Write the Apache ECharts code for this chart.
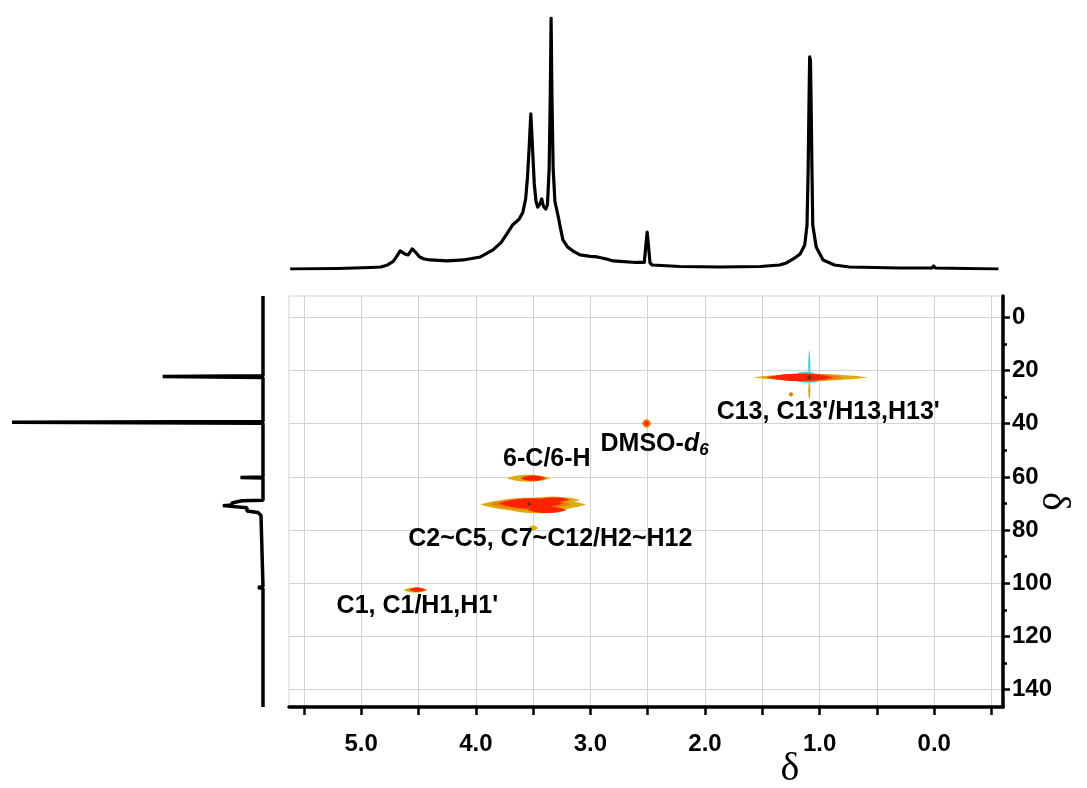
<!DOCTYPE html>
<html>
<head>
<meta charset="UTF-8">
<title>HSQC</title>
<script src="https://cdn.jsdelivr.net/npm/echarts@6/dist/echarts.min.js"></script>
<style>
html, body { margin: 0; padding: 0; background: #fff; }
#hsqc { width: 1087px; height: 788px; }
</style>
</head>
<body>
<div id="hsqc"></div>
<script>
// axis ranges (ppm)
var hRange = [-0.6, 5.63];
var cRange = [-8, 146.5];
var hTicks = [-0.5, 0, 0.5, 1, 1.5, 2, 2.5, 3, 3.5, 4, 4.5, 5, 5.5];
var hLabels = [0, 1, 2, 3, 4, 5];
var cTicks = [0, 20, 40, 60, 80, 100, 120, 140];
var cMinorTicks = [10, 30, 50, 70, 90, 110, 130];

// 1H projection (top): [shift, intensity]
var protonSpectrum = [
    [5.62, 0], [5.20, 0.2], [4.92, 0.6], [4.83, 0.8], [4.77, 1.6], [4.72, 3.0], [4.69, 5.0],
    [4.66, 7.2], [4.62, 6.0], [4.59, 5.6], [4.555, 8.0], [4.52, 6.4], [4.49, 4.8], [4.45, 4.0],
    [4.40, 3.6], [4.25, 3.2], [4.11, 3.6], [3.96, 4.8], [3.85, 7.6], [3.78, 10.5], [3.73, 13.9],
    [3.68, 17.5], [3.65, 18.7], [3.62, 20.0], [3.59, 22.5], [3.565, 28], [3.55, 36], [3.535, 48],
    [3.52, 61.8], [3.505, 48], [3.49, 34], [3.475, 27], [3.46, 24.7], [3.44, 26], [3.425, 27.9],
    [3.41, 25], [3.39, 23.9], [3.375, 25.5], [3.36, 40], [3.35, 70], [3.343, 100], [3.336, 70],
    [3.325, 40], [3.31, 27], [3.28, 20.7], [3.26, 16], [3.24, 11.6], [3.20, 8.8], [3.14, 6.8],
    [3.09, 5.6], [3.0, 5.0], [2.94, 4.8], [2.86, 4.0], [2.80, 3.2], [2.74, 3.0], [2.60, 2.6],
    [2.53, 2.6], [2.515, 10], [2.505, 14.7], [2.495, 10], [2.48, 2.4], [2.46, 1.6], [2.22, 1.0],
    [1.87, 0.8], [1.52, 1.0], [1.35, 1.6], [1.29, 2.4], [1.23, 4.0], [1.17, 6.0], [1.13, 9.6],
    [1.11, 17.5], [1.10, 40], [1.093, 65], [1.087, 84.5], [1.08, 83], [1.074, 65], [1.067, 40],
    [1.06, 17.5], [1.03, 8.8], [0.97, 3.6], [0.87, 1.6], [0.74, 0.8], [0.30, 0.4], [0.02, 0.4],
    [0.005, 1.2], [-0.01, 0.4], [-0.56, 0]
];

// 13C projection (left): [shift, intensity]
var carbonSpectrum = [
    [-8, 0], [22.0, 0], [22.3, 40], [22.6, 0], [39.2, 0], [39.5, 100], [39.8, 0],
    [60.0, 0], [60.2, 9], [60.4, 0], [68.8, 0], [69.0, 8.4], [69.6, 8.4], [69.8, 12.4],
    [70.6, 12.4], [70.8, 16], [71.4, 16], [71.6, 6.4], [72.8, 6.4], [73.4, 2], [74.5, 0.8],
    [101.2, 0], [101.6, 2], [102, 0], [146.5, 0]
];

// cross peaks per contour level: [1H shift, 13C shift, 1H half-span, 13C half-span]
var levelOuter = [
    [1.08, 22.6, 0.50, 1.3], [1.09, 27.5, 0.010, 3.5],
    [3.54, 60.5, 0.19, 1.3],
    [3.50, 70.4, 0.46, 2.6], [3.33, 68.7, 0.24, 1.3], [3.45, 72.5, 0.25, 1.2], [3.50, 79.2, 0.04, 0.9],
    [4.525, 102.5, 0.105, 1.0]
];
var levelNegative = [
    [1.09, 18.0, 0.010, 5.5], [1.10, 24.0, 0.10, 0.6], [1.12, 21.0, 0.08, 0.5]
];
var levelMid = [
    [1.12, 22.6, 0.33, 1.5], [1.25, 29.0, 0.02, 0.8],
    [2.51, 39.9, 0.04, 1.6],
    [3.52, 70.2, 0.35, 2.2]
];
var levelInner = [
    [1.17, 22.6, 0.29, 1.4],
    [2.51, 39.9, 0.02, 0.9],
    [3.50, 60.5, 0.11, 1.0],
    [3.52, 70.0, 0.28, 1.9], [3.38, 72.4, 0.17, 1.2], [3.32, 68.6, 0.14, 0.9],
    [4.51, 102.4, 0.07, 0.8]
];
var levelCore = [
    [1.09, 22.6, 0.02, 0.8], [3.535, 70.2, 0.015, 0.7]
];

// assignments: [1H, 13C, text]
var annotations = [
    [0.925, 35.7, "C13, C13'/H13,H13'"],
    [2.44, 47.5, 'DMSO-d6'],
    [3.38, 53.3, '6-C/6-H'],
    [3.35, 83.5, 'C2~C5, C7~C12/H2~H12'],
    [4.51, 108.4, "C1, C1/H1,H1'"]
];

var SANS = 'Liberation Sans, Arial, sans-serif';
var SERIF = 'Liberation Serif, Times New Roman, serif';

function lens(color) {
    return function (params, api) {
        var h = api.value(0), c = api.value(1), wh = api.value(2), wc = api.value(3);
        var p = api.coord([h, c]);
        var a = Math.abs(api.coord([h + wh, c])[0] - p[0]);
        var b = Math.abs(api.coord([h, c + wc])[1] - p[1]);
        var top = [], bot = [];
        for (var i = 0; i <= 32; i++) {
            var u = -1 + i / 16;
            var f = Math.pow(Math.max(0, 1 - u * u), 0.9);
            top.push([p[0] + a * u, p[1] - b * f]);
            bot.unshift([p[0] + a * u, p[1] + b * f]);
        }
        return { type: 'polygon', shape: { points: top.concat(bot) }, style: { fill: color } };
    };
}

function peakSeries(data, color) {
    return {
        type: 'custom', coordinateSystem: 'cartesian2d', xAxisIndex: 0, yAxisIndex: 0,
        encode: { x: 0, y: 1 }, renderItem: lens(color), data: data, silent: true
    };
}

var chart = echarts.init(document.getElementById('hsqc'));
var option = {
    animation: false,
    backgroundColor: '#fff',
    grid: [
        { left: 289, top: 296, width: 714, height: 411, show: true, borderColor: '#d3d3d3', borderWidth: 1, outerBoundsMode: 'none' },
        { left: 289, top: 18, width: 714, height: 251, outerBoundsMode: 'none' },
        { left: 12, top: 296, width: 251, height: 411, outerBoundsMode: 'none' }
    ],
    xAxis: [
        {
            gridIndex: 0, type: 'value', min: hRange[0], max: hRange[1], inverse: true, position: 'bottom',
            name: 'δ', nameLocation: 'middle', nameGap: 42, nameMoveOverlap: false,
            nameTextStyle: { fontFamily: SERIF, fontSize: 40, color: '#000', padding: [0, 0, 0, 288] },
            axisLine: { onZero: false, lineStyle: { color: '#000', width: 3.5 } },
            axisTick: { customValues: hTicks, length: 8, lineStyle: { color: '#000', width: 2.5 } },
            axisLabel: {
                customValues: hLabels, margin: 25, color: '#000', fontFamily: SANS, fontWeight: 'bold', fontSize: 24,
                formatter: function (v) { return v.toFixed(1); }
            },
            splitLine: { show: true, lineStyle: { color: '#d3d3d3', width: 1 } }
        },
        { gridIndex: 1, type: 'value', min: hRange[0], max: hRange[1], inverse: true, show: false },
        { gridIndex: 2, type: 'value', min: 0, max: 100, inverse: true, show: false }
    ],
    yAxis: [
        {
            gridIndex: 0, type: 'value', min: cRange[0], max: cRange[1], inverse: true, position: 'right',
            name: 'δ', nameLocation: 'middle', nameGap: 30, nameRotate: -90, nameMoveOverlap: false,
            nameTextStyle: { fontFamily: SERIF, fontSize: 40, color: '#000' },
            axisLine: { onZero: false, lineStyle: { color: '#000', width: 3.5 } },
            axisTick: { customValues: cTicks, length: 7, lineStyle: { color: '#000', width: 2.5 } },
            axisLabel: { customValues: cTicks, margin: 9, color: '#000', fontFamily: SANS, fontWeight: 'bold', fontSize: 24 },
            splitLine: { show: true, lineStyle: { color: '#d3d3d3', width: 1 } }
        },
        {
            gridIndex: 0, type: 'value', min: cRange[0], max: cRange[1], inverse: true, position: 'right',
            axisLine: { show: false, onZero: false },
            axisTick: { customValues: cMinorTicks, length: 4, lineStyle: { color: '#000', width: 2.5 } },
            axisLabel: { show: false },
            splitLine: { show: false }
        },
        { gridIndex: 1, type: 'value', min: 0, max: 100, show: false },
        { gridIndex: 2, type: 'value', min: cRange[0], max: cRange[1], inverse: true, show: false }
    ],
    series: [
        {
            type: 'line', xAxisIndex: 1, yAxisIndex: 2, data: protonSpectrum, showSymbol: false, silent: true,
            lineStyle: { color: '#000', width: 3.2, join: 'round' }
        },
        {
            type: 'line', xAxisIndex: 2, yAxisIndex: 3,
            data: carbonSpectrum.map(function (d) { return [d[1], d[0]]; }),
            showSymbol: false, silent: true, lineStyle: { color: '#000', width: 3.5 }
        },
        peakSeries(levelOuter, '#d9ab0c'),
        peakSeries(levelNegative, '#3dd0e6'),
        peakSeries(levelMid, '#f27a00'),
        peakSeries(levelInner, '#ff2200'),
        peakSeries(levelCore, '#7c2410'),
        {
            type: 'scatter', xAxisIndex: 0, yAxisIndex: 0, symbolSize: 1, silent: true,
            itemStyle: { color: 'transparent', opacity: 1 },
            data: annotations.map(function (a) { return { value: [a[0], a[1]], name: a[2] }; }),
            label: {
                show: true, position: 'inside', color: '#000', opacity: 1, fontFamily: SANS, fontWeight: 'bold', fontSize: 25,
                formatter: function (p) {
                    return p.name === 'DMSO-d6' ? '{n|DMSO-}{i|d}{s|6}' : p.name;
                },
                rich: {
                    n: { fontFamily: SANS, fontWeight: 'bold', fontSize: 25, color: '#000', lineHeight: 30 },
                    i: { fontFamily: SANS, fontWeight: 'bold', fontStyle: 'italic', fontSize: 25, color: '#000', lineHeight: 30 },
                    s: { fontFamily: SANS, fontWeight: 'bold', fontStyle: 'italic', fontSize: 17, color: '#000', lineHeight: 20, padding: [14, 0, 0, 0] }
                }
            }
        }
    ]
};
chart.setOption(option);
</script>
</body>
</html>
